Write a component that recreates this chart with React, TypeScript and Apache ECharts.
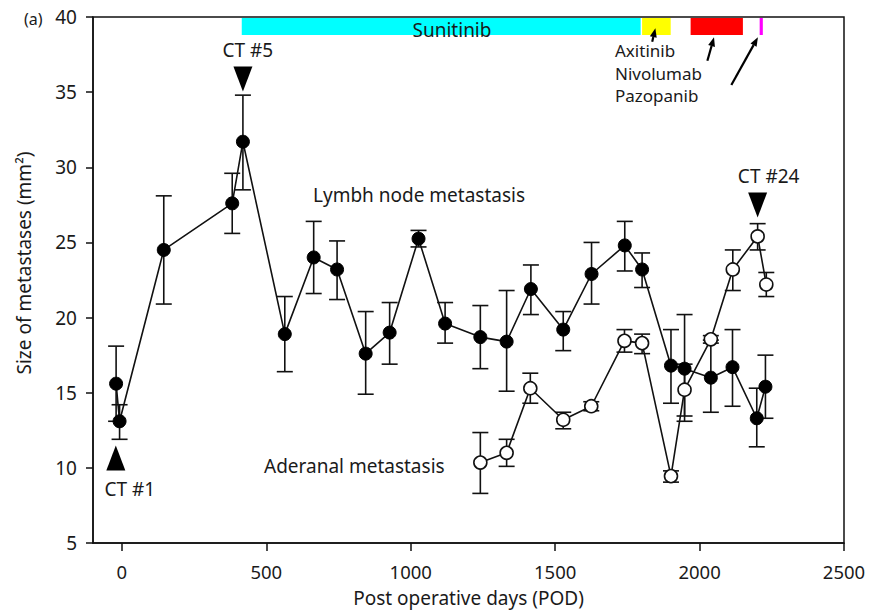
import React, { useEffect, useRef } from "react";
import * as echarts from "echarts";

// Lymph node metastasis (filled circles)
const lymphDays = [-20, -8, 145, 382, 419, 564, 664, 745, 844, 927, 1027, 1119, 1241, 1332, 1416, 1528, 1626, 1741, 1801, 1901, 1948, 2039, 2114, 2198, 2228];
const lymphSize = [15.6, 13.1, 24.5, 27.6, 31.7, 18.9, 24.0, 23.2, 17.6, 19.0, 25.25, 19.6, 18.7, 18.4, 21.9, 19.2, 22.9, 24.8, 23.2, 16.8, 16.6, 16.0, 16.7, 13.3, 15.4];
const lymphUpper = [18.1, 14.2, 28.1, 29.6, 34.8, 21.4, 26.4, 25.1, 20.4, 21.0, 25.8, 21.0, 20.8, 21.8, 23.5, 20.4, 25.0, 26.4, 24.3, 19.2, 20.2, 18.5, 19.2, 15.3, 17.5];
const lymphLower = [13.1, 11.9, 20.9, 25.6, 28.5, 16.4, 21.6, 21.2, 14.9, 16.9, 24.7, 18.3, 16.6, 15.1, 20.2, 17.8, 20.9, 23.1, 22.0, 14.3, 13.1, 13.7, 14.1, 11.4, 13.3];

// Adrenal metastasis (open circles)
const adrenalDays = [1241, 1332, 1414, 1528, 1625, 1740, 1801, 1901, 1948, 2039, 2115, 2201, 2231];
const adrenalSize = [10.35, 11.0, 15.3, 13.2, 14.1, 18.45, 18.3, 9.45, 15.2, 18.55, 23.2, 25.4, 22.2];
const adrenalUpper = [12.35, 11.9, 16.3, 13.7, 14.4, 19.2, 18.9, 9.8, 16.9, 18.8, 24.5, 26.25, 23.0];
const adrenalLower = [8.3, 10.1, 14.3, 12.6, 13.8, 17.7, 17.6, 9.05, 13.45, 18.3, 21.8, 24.5, 21.4];

// Treatments (top bars)
const drugNames = ["Sunitinib", "Axitinib", "Nivolumab", "Pazopanib"];
const drugStart = [415, 1801, 1969, 2208];
const drugEnd = [1796, 1900, 2150, 2219];
const drugColors = ["#00ffff", "#ffff00", "#ff0000", "#ff00ff"];

// Arrows from labels to bars: [fromDay, fromSize] -> [toDay, toSize]
const arrowFrom = [[1836, 38.36], [2027, 37.09], [2110, 35.48]];
const arrowTo = [[1847, 39.25], [2050, 38.65], [2202, 38.65]];

// CT markers
const ctDays = [-21, 419, 2201];
const ctSizes = [10.66, 35.87, 27.49];
const ctLabels = ["CT #1", "CT #5", "CT #24"];

const xTicks = [0, 500, 1000, 1500, 2000, 2500];

const FONT = "Noto Sans";
const TXT = "#1a1a1a";
const FS = 19;

export default function App() {
  const ref = useRef<HTMLDivElement>(null);
  useEffect(() => {
    const chart = echarts.init(ref.current!, null, { renderer: "svg" });

    const errorSeries = (days: number[], lo: number[], hi: number[]) => ({
      type: "custom",
      z: 1,
      data: days.map((d, i) => [d, lo[i], hi[i]]),
      encode: { x: 0, y: [1, 2] },
      renderItem: (params: any, api: any) => {
        const x = api.value(0);
        const a = api.coord([x, api.value(2)]);
        const b = api.coord([x, api.value(1)]);
        const w = 8;
        const st = { stroke: "#111", lineWidth: 1.6 };
        return {
          type: "group",
          children: [
            { type: "line", shape: { x1: a[0], y1: a[1], x2: b[0], y2: b[1] }, style: st },
            { type: "line", shape: { x1: a[0] - w, y1: a[1], x2: a[0] + w, y2: a[1] }, style: st },
            { type: "line", shape: { x1: b[0] - w, y1: b[1], x2: b[0] + w, y2: b[1] }, style: st },
          ],
        };
      },
    });

    const txt = (text: string, x: number, y: number, align: string = "left", fs: number = FS) => ({
      type: "text",
      x,
      y,
      z: 100,
      style: { text, fontSize: fs, fill: TXT, fontFamily: FONT, align, verticalAlign: "middle" },
    });

    const ctOffsets = [[14, 0], [5, 0], [11, 0]];

    const option: any = {
      animation: false,
      textStyle: { fontFamily: FONT },
      grid: {
        left: 93,
        right: 33,
        top: 17,
        bottom: 69,
        show: true,
        borderColor: "#111",
        borderWidth: 1.5,
        backgroundColor: "transparent",
      },
      xAxis: {
        type: "value",
        min: -100,
        max: 2500,
        name: "Post operative days (POD)",
        nameLocation: "middle",
        nameGap: 45,
        nameTextStyle: { fontSize: FS, color: TXT, fontFamily: FONT },
        axisLine: { show: true, onZero: false, lineStyle: { color: "#111", width: 1.5 } },
        axisTick: { show: true, customValues: xTicks, length: 8, lineStyle: { color: "#111", width: 1.5 } },
        axisLabel: {
          customValues: xTicks,
          fontSize: 18.5,
          color: TXT,
          margin: 19,
          fontFamily: FONT,
          formatter: (v: number) => String(v),
        },
        splitLine: { show: false },
      },
      yAxis: {
        type: "value",
        min: 5,
        max: 40,
        interval: 5,
        axisLine: { show: true, onZero: false, lineStyle: { color: "#111", width: 1.5 } },
        axisTick: { show: true, length: 7, lineStyle: { color: "#111", width: 1.5 } },
        axisLabel: { fontSize: 19, color: TXT, margin: 16, fontFamily: FONT, formatter: (v: number) => String(v) },
        splitLine: { show: false },
      },
      series: [
        {
          type: "custom",
          z: 3,
          data: drugStart.map((s, i) => [s, drugEnd[i], i]),
          encode: { x: [0, 1] },
          renderItem: (params: any, api: any) => {
            const a = api.coord([api.value(0), 40]);
            const b = api.coord([api.value(1), 40]);
            const idx = api.value(2);
            return {
              type: "rect",
              shape: { x: a[0], y: a[1] + 1, width: Math.max(b[0] - a[0], 2.5), height: 17 },
              style: { fill: drugColors[idx] },
            };
          },
        },
        {
          type: "custom",
          z: 3,
          data: arrowFrom.map((f, i) => [f[0], f[1], arrowTo[i][0], arrowTo[i][1]]),
          encode: { x: [0, 2], y: [1, 3] },
          renderItem: (params: any, api: any) => {
            const p = api.coord([api.value(0), api.value(1)]);
            const q = api.coord([api.value(2), api.value(3)]);
            const dx = q[0] - p[0];
            const dy = q[1] - p[1];
            const len = Math.sqrt(dx * dx + dy * dy);
            const ux = dx / len;
            const uy = dy / len;
            const hl = 9;
            const hw = 3.5;
            const bx = q[0] - ux * hl;
            const by = q[1] - uy * hl;
            return {
              type: "group",
              children: [
                { type: "line", shape: { x1: p[0], y1: p[1], x2: bx, y2: by }, style: { stroke: "#000", lineWidth: 2.2 } },
                {
                  type: "polygon",
                  shape: { points: [[q[0], q[1]], [bx - uy * hw, by + ux * hw], [bx + uy * hw, by - ux * hw]] },
                  style: { fill: "#000" },
                },
              ],
            };
          },
        },
        errorSeries(lymphDays, lymphLower, lymphUpper),
        errorSeries(adrenalDays, adrenalLower, adrenalUpper),
        {
          type: "line",
          z: 2,
          data: lymphDays.map((d, i) => [d, lymphSize[i]]),
          symbol: "circle",
          symbolSize: 13,
          itemStyle: { color: "#000", borderColor: "#000", borderWidth: 1 },
          lineStyle: { color: "#111", width: 1.6 },
        },
        {
          type: "line",
          z: 2,
          data: adrenalDays.map((d, i) => [d, adrenalSize[i]]),
          symbol: "circle",
          symbolSize: 13,
          itemStyle: { color: "#fff", borderColor: "#111", borderWidth: 1.6 },
          lineStyle: { color: "#111", width: 1.6 },
        },
        {
          type: "scatter",
          z: 4,
          data: ctDays.map((d, i) => ({
            value: [d, ctSizes[i]],
            symbolRotate: i === 0 ? 0 : 180,
            label: {
              show: true,
              formatter: ctLabels[i],
              position: i === 0 ? "bottom" : "top",
              distance: i === 0 ? 9 : 7,
              offset: ctOffsets[i],
              fontSize: FS,
              color: TXT,
              fontFamily: FONT,
            },
          })),
          symbol: "triangle",
          symbolSize: [19, 25],
          itemStyle: { color: "#000", opacity: 1 },
        },
      ],
      graphic: [
        { type: "text", x: 24, y: 19, z: 100, style: { text: "(a)", fontSize: 16, fill: TXT, fontFamily: FONT, verticalAlign: "middle" } },
        {
          type: "text",
          x: 24,
          y: 263,
          rotation: Math.PI / 2,
          z: 100,
          style: {
            text: "Size of metastases (mm²)",
            fontSize: FS,
            fill: TXT,
            fontFamily: FONT,
            align: "center",
            verticalAlign: "middle",
          },
        },
        txt(drugNames[0], 452, 30, "center"),
        txt(drugNames[1], 615, 50.5, "left", 17),
        txt(drugNames[2], 615, 73, "left", 17),
        txt(drugNames[3], 615, 95.5, "left", 17),
        txt("Lymbh node metastasis", 313, 195),
        txt("Aderanal metastasis", 264, 466),
      ],
    };
    chart.setOption(option);
    return () => chart.dispose();
  }, []);
  return <div ref={ref} style={{ position: "fixed", left: 0, top: 0, width: 877, height: 612, background: "#fff" }} />;
}
